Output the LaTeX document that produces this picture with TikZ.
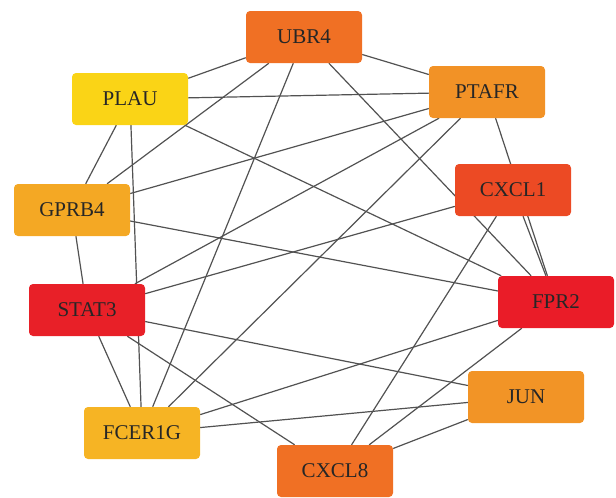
\documentclass[tikz,border=0pt]{standalone}
\usepackage{fontspec}
\setmainfont{Liberation Serif}
\usetikzlibrary{backgrounds}
\definecolor{cubr}{RGB}{240,112,36}
\definecolor{cplau}{RGB}{250,212,22}
\definecolor{cptafr}{RGB}{242,146,38}
\definecolor{ccxclone}{RGB}{236,74,36}
\definecolor{cgprb}{RGB}{244,168,36}
\definecolor{cstat}{RGB}{232,32,40}
\definecolor{cfpr}{RGB}{234,28,40}
\definecolor{cjun}{RGB}{242,148,38}
\definecolor{cfcer}{RGB}{246,180,36}
\definecolor{ccxcleight}{RGB}{240,112,36}
\begin{document}
\begin{tikzpicture}[x=1pt, y=-1pt,
        gene/.style={rectangle, rounded corners=4pt, minimum width=116pt, minimum height=52pt, inner sep=0pt, font=\fontsize{21}{25}\selectfont, text=black!85},
        link/.style={draw=black!68, line width=1.2pt}
    ]
    \useasboundingbox (0,0) rectangle (616,498);
    % Nodes
    \node[gene, fill=cubr] (UBR4) at (304,37) {UBR4};
    \node[gene, fill=cptafr] (PTAFR) at (487,92) {PTAFR};
    \node[gene, fill=cplau] (PLAU) at (130,99) {PLAU};
    \node[gene, fill=ccxclone] (CXCL1) at (513,190) {CXCL1};
    \node[gene, fill=cgprb] (GPRB4) at (72,210) {GPRB4};
    \node[gene, fill=cstat] (STAT3) at (87,310) {STAT3};
    \node[gene, fill=cfpr] (FPR2) at (556,302) {FPR2};
    \node[gene, fill=cjun] (JUN) at (526,397) {JUN};
    \node[gene, fill=cfcer] (FCER1G) at (142,433) {FCER1G};
    \node[gene, fill=ccxcleight] (CXCL8) at (335,471) {CXCL8};
    % Edges
    \begin{scope}[on background layer]
    \draw[link] (UBR4) -- (PLAU);
    \draw[link] (UBR4) -- (PTAFR);
    \draw[link] (UBR4) -- (GPRB4);
    \draw[link] (UBR4) -- (FCER1G);
    \draw[link] (UBR4) -- (FPR2);
    \draw[link] (PLAU) -- (PTAFR);
    \draw[link] (PLAU) -- (GPRB4);
    \draw[link] (PLAU) -- (FPR2);
    \draw[link] (PLAU) -- (FCER1G);
    \draw[link] (PTAFR) -- (GPRB4);
    \draw[link] (PTAFR) -- (STAT3);
    \draw[link] (PTAFR) -- (FCER1G);
    \draw[link] (PTAFR) -- (FPR2);
    \draw[link] (CXCL1) -- (FPR2);
    \draw[link] (CXCL1) -- (STAT3);
    \draw[link] (CXCL1) -- (CXCL8);
    \draw[link] (GPRB4) -- (FPR2);
    \draw[link] (GPRB4) -- (STAT3);
    \draw[link] (STAT3) -- (JUN);
    \draw[link] (STAT3) -- (FCER1G);
    \draw[link] (STAT3) -- (CXCL8);
    \draw[link] (FPR2) -- (FCER1G);
    \draw[link] (FPR2) -- (CXCL8);
    \draw[link] (JUN) -- (FCER1G);
    \draw[link] (JUN) -- (CXCL8);
    \end{scope}
\end{tikzpicture}
\end{document}
